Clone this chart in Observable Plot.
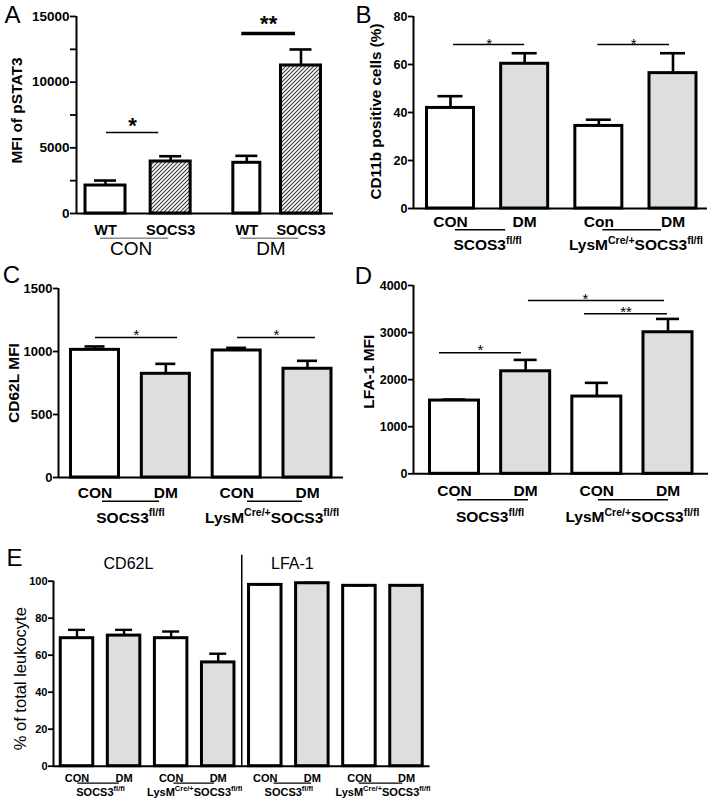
<!DOCTYPE html>
<html>
<head>
<meta charset="utf-8">
<script src="https://cdn.jsdelivr.net/npm/d3@7"></script>
<script src="https://cdn.jsdelivr.net/npm/@observablehq/plot@0.6"></script>
<style>
  body { margin: 0; background: #fff; }
  #fig { position: relative; width: 709px; height: 805px; overflow: hidden; background: #fff; }
  #fig svg [aria-label^="y-axis"] line, #fig svg [aria-label^="y-axis"] path { stroke-width: 1.8px; }
</style>
</head>
<body>
<div id="fig"></div>
<script>
// ---------------- DATA ----------------
// Panel A
const aTicks = ["WT", "SOCS3", "WT", "SOCS3"];
const aConditions = ["CON", "CON", "DM", "DM"];
const aMeans = [2130, 3960, 3860, 11270];
const aErrors = [380, 400, 530, 1220];
const aYTicks = [0, 5000, 10000, 15000];
const aYMinorTicks = [2500, 7500, 12500];
const aGroups = [{a: 0, b: 1, label: "CON"}, {a: 2, b: 3, label: "DM"}];
const aSig = [{a: 0, b: 1, y: 6170, label: "*"}, {a: 2, b: 3, y: 13700, label: "**"}];
const aYLabel = "MFI of pSTAT3";

// Panel B
const bTicks = ["CON", "DM", "Con", "DM"];
const bMeans = [41.9, 60.3, 34.4, 56.4];
const bErrors = [4.9, 4.4, 2.6, 8.3];
const bYTicks = [0, 20, 40, 60, 80];
const bGroups = [{a: 0, b: 1, label: "SCOS3^{fl/fl}"}, {a: 2, b: 3, label: "LysM^{Cre/+}SOCS3^{fl/fl}"}];
const bSig = [{a: 0, b: 1, y: 68.3, label: "*"}, {a: 2, b: 3, y: 68.3, label: "*"}];
const bYLabel = "CD11b positive cells (%)";

// Panel C
const cTicks = ["CON", "DM", "CON", "DM"];
const cMeans = [1013, 823, 1008, 863];
const cErrors = [27, 79, 21, 63];
const cYTicks = [0, 500, 1000, 1500];
const cGroups = [{a: 0, b: 1, label: "SOCS3^{fl/fl}"}, {a: 2, b: 3, label: "LysM^{Cre/+}SOCS3^{fl/fl}"}];
const cSig = [{a: 0, b: 1, y: 1111, label: "*"}, {a: 2, b: 3, y: 1111, label: "*"}];
const cYLabel = "CD62L MFI";

// Panel D
const dTicks = ["CON", "DM", "CON", "DM"];
const dMeans = [1556, 2178, 1641, 3007];
const dErrors = [21, 242, 291, 283];
const dYTicks = [0, 1000, 2000, 3000, 4000];
const dGroups = [{a: 0, b: 1, label: "SOCS3^{fl/fl}"}, {a: 2, b: 3, label: "LysM^{Cre/+}SOCS3^{fl/fl}"}];
const dSig = [{a: 0, b: 1, y: 2570, label: "*"}, {a: 1, b: 3, y: 3680, label: "*"}, {a: 2, b: 3, y: 3400, label: "**"}];
const dYLabel = "LFA-1 MFI";

// Panel E
const eMarkers = ["CD62L", "LFA-1"];
const eTicks = ["CON", "DM", "CON", "DM", "CON", "DM", "CON", "DM"];
const eMeans = [69.2, 70.6, 69.2, 56.1, 98.0, 98.9, 97.5, 97.5];
const eErrors = [4.5, 3.1, 3.6, 4.7, 0.3, 0.2, 0.3, 0.3];
const eYTicks = [0, 20, 40, 60, 80, 100];
const eGroups = [
  {a: 0, b: 1, label: "SOCS3^{fl/fl}"}, {a: 2, b: 3, label: "LysM^{Cre/+}SOCS3^{fl/fl}"},
  {a: 4, b: 5, label: "SOCS3^{fl/fl}"}, {a: 6, b: 7, label: "LysM^{Cre/+}SOCS3^{fl/fl}"}
];
const eYLabel = "% of total leukocyte";

// ---------------- STYLE / LAYOUT ----------------
const FONT = '"Liberation Sans", Arial, Helvetica, sans-serif';
const GRAY = "#dedede";
const fig = document.getElementById("fig");

function applySup(svg) {
  svg.querySelectorAll("text").forEach(t => {
    const s = t.textContent;
    if (!s.includes("^{")) return;
    while (t.firstChild) t.removeChild(t.firstChild);
    const re = /\^\{([^}]*)\}/g;
    let last = 0, m, raised = false;
    const add = (str, sup) => {
      const ts = document.createElementNS("http://www.w3.org/2000/svg", "tspan");
      ts.textContent = str;
      if (sup) { ts.setAttribute("font-size", "68%"); ts.setAttribute("dy", "-0.62em"); }
      else if (raised) { ts.setAttribute("dy", "0.42em"); }
      t.appendChild(ts);
      raised = sup;
    };
    while ((m = re.exec(s))) {
      if (m.index > last) add(s.slice(last, m.index), false);
      add(m[1], true);
      last = re.lastIndex;
    }
    if (last < s.length) add(s.slice(last), false);
  });
}

function buildPanel(L, D) {
  const n = D.cats.length;
  const bw = L.bw;
  const step = (L.cN - L.c0) / (n - 1);
  const r0 = L.c0 - bw / 2, r1 = L.cN + bw / 2;
  const pi = 1 - bw / step;
  const center = i => L.c0 + i * step;
  const bandStart = i => center(i) - bw / 2;
  const bandEnd = i => center(i) + bw / 2;
  const shift = i => (L.shift ? L.shift[i] : 0);
  const wid = i => (L.widths ? L.widths[i] : bw);
  const rows = D.cats.map((cat, i) => ({i, cat, tick: D.ticks[i], mean: D.means[i], err: D.errors[i], fill: D.fills[i]}));
  const marks = [];
  rows.forEach(r => {
    const w = wid(r.i), s = shift(r.i), pad = (bw - w) / 2;
    marks.push(Plot.barY([r], {x: "cat", y: "mean", fill: r.fill, stroke: "black", strokeWidth: L.barStroke,
      insetLeft: pad + s, insetRight: pad - s}));
  });
  rows.forEach(r => {
    const s = shift(r.i), capPad = (bw - L.cap) / 2;
    marks.push(Plot.ruleX([r], {x: "cat", y1: "mean", y2: d => d.mean + d.err, strokeWidth: L.errStroke, dx: s}));
    marks.push(Plot.tickY([r], {x: "cat", y: d => d.mean + d.err, strokeWidth: L.errStroke,
      insetLeft: capPad + s, insetRight: capPad - s}));
  });
  // axes lines
  marks.push(Plot.ruleY([0], {strokeWidth: 2}));
  marks.push(Plot.ruleX([D.cats[0]], {x: d => d, dx: L.mL - (r0 + bw / 2), strokeWidth: 2}));
  // x tick labels
  rows.forEach(r => {
    marks.push(Plot.text([r], {x: "cat", text: "tick", frameAnchor: "bottom", lineAnchor: "middle", textAnchor: "middle",
      dy: L.xDy, dx: shift(r.i), fontSize: L.xFs, fontWeight: "bold"}));
  });
  // group underlines + labels
  D.groups.forEach((g, k) => {
    const [inL, inR] = L.ul[k];
    marks.push(Plot.ruleY([g], {x1: () => D.cats[g.a], x2: () => D.cats[g.b], y: () => 0, dy: L.ulDy,
      insetLeft: inL, insetRight: inR, stroke: L.ulColor, strokeWidth: L.ulWidth}));
    const cmid = (center(g.a) + shift(g.a) + center(g.b) + shift(g.b)) / 2;
    marks.push(Plot.text([g], {x: () => D.cats[g.a], text: "label", frameAnchor: "bottom", lineAnchor: "middle", textAnchor: "middle",
      dx: cmid - center(g.a) + (L.groupDx ? L.groupDx[k] : 0), dy: L.groupDy, fontSize: L.groupFs, fontWeight: L.groupWeight}));
  });
  // significance
  (D.sig || []).forEach((s, k) => {
    const [inL, inR] = L.sigIn[k];
    const sw = Array.isArray(L.sigWidth) ? L.sigWidth[k] : L.sigWidth;
    marks.push(Plot.ruleY([s], {x1: () => D.cats[s.a], x2: () => D.cats[s.b], y: "y",
      insetLeft: inL, insetRight: inR, strokeWidth: sw}));
    const mid = ((bandStart(s.a) + inL) + (bandEnd(s.b) - inR)) / 2;
    marks.push(Plot.text([s], {x: () => D.cats[s.a], y: "y", text: "label", lineAnchor: "middle", textAnchor: "middle",
      dx: mid - center(s.a) + (L.starShift ? L.starShift[k] : 0), dy: L.sigDy[k], fontSize: L.sigFs, fontWeight: L.sigWeight}));
  });
  // y label
  marks.push(Plot.text([D.yLabel], {text: d => d, frameAnchor: "left", rotate: -90, textAnchor: "middle", lineAnchor: "middle",
    dx: L.ylDx, dy: L.ylDy, fontSize: L.ylFs, fontWeight: L.ylWeight}));
  // panel letter
  marks.push(Plot.text([D.letter], {text: d => d, frameAnchor: "top-left", textAnchor: "middle", lineAnchor: "middle",
    dx: L.letterDx, dy: L.letterDy, fontSize: 24, fontWeight: "normal"}));
  if (L.extra) marks.push(...L.extra({center, step, bw, cats: D.cats}));

  const major = new Set(D.yTicks);
  const allTicks = D.yTicks.concat(D.yMinor || []);
  const svg = Plot.plot({
    width: L.width, height: L.height,
    marginLeft: L.mL, marginRight: L.mR, marginTop: L.mT, marginBottom: L.mB,
    x: {type: "band", domain: D.cats, range: [r0, r1], paddingInner: pi, paddingOuter: 0, align: 0.5, round: false, axis: null},
    y: {domain: D.yDomain, ticks: allTicks, tickFormat: d => major.has(d) ? String(d) : "", tickSize: L.tickSize, tickPadding: 1, label: null},
    style: {fontFamily: FONT, fontSize: L.yTickFs + "px", fontWeight: "bold", color: "black", background: "transparent", overflow: "visible"},
    marks
  });
  svg.style.position = "absolute";
  svg.style.left = L.left + "px";
  svg.style.top = L.top + "px";
  svg.style.maxWidth = "none";
  if (L.defs) L.defs(svg);
  fig.appendChild(svg);
  applySup(svg);
  return svg;
}

// ----- Panel A -----
buildPanel({
  left: 0, top: 0, width: 350, height: 270, mL: 76, mR: 17, mT: 16, mB: 57,
  c0: 105, cN: 300.5, bw: 40, shift: [0, 0, 11, 0], widths: [40, 40, 27, 40],
  barStroke: 3, errStroke: 2.6, cap: 22, yTickFs: 13.5, tickSize: 6,
  xFs: 14.5, xDy: 17, ulDy: 24.7, ul: [[15, 22], [25, 22]], ulColor: "#8a8a8a", ulWidth: 1.5,
  groupDy: 35, groupFs: 19, groupWeight: "normal", groupDx: [-7, -3],
  sigIn: [[21, 32], [26, 25.5]], sigWidth: [1.6, 3.6], sigFs: 22, sigWeight: "bold", sigDy: [-6.5, -9.5],
  ylFs: 15.5, ylWeight: "bold", ylDx: -59, ylDy: -4.5, letterDx: -64, letterDy: -1.5,
  defs: svg => {
    const defs = d3.select(svg).insert("defs", ":first-child");
    const p = defs.append("pattern").attr("id", "hatchA").attr("patternUnits", "userSpaceOnUse").attr("width", 4).attr("height", 4);
    p.append("rect").attr("width", 4).attr("height", 4).attr("fill", "white");
    p.append("path").attr("d", "M-1,1 l2,-2 M0,4 l4,-4 M3,5 l2,-2").attr("stroke", "#3a3a3a").attr("stroke-width", 1.1);
  }
}, {
  cats: aTicks.map((t, i) => `${t}|${aConditions[i]}`), ticks: aTicks, means: aMeans, errors: aErrors,
  fills: aTicks.map(t => t === "SOCS3" ? "url(#hatchA)" : "white"),
  yDomain: [0, 15000], yTicks: aYTicks, yMinor: aYMinorTicks, groups: aGroups, sig: aSig, yLabel: aYLabel, letter: "A"
});

// ----- Panel B -----
buildPanel({
  left: 350, top: 0, width: 359, height: 270, mL: 63, mR: 2, mT: 16, mB: 62,
  c0: 100, cN: 322.5, bw: 47,
  barStroke: 3, errStroke: 2.6, cap: 25, yTickFs: 12.5, tickSize: 5,
  xFs: 15.5, xDy: 14, ulDy: 21.3, ul: [[28.5, 42.5], [27.5, 35]], ulColor: "black", ulWidth: 1.5,
  groupDy: 37, groupFs: 15.5, groupWeight: "bold",
  sigIn: [[26.5, 23.5], [22.5, 27]], sigWidth: 1.5, sigFs: 15, sigWeight: "normal", sigDy: [0, 0],
  ylFs: 15.3, ylWeight: "bold", ylDx: -37.3, ylDy: -1, letterDx: -50, letterDy: -1
}, {
  cats: bTicks.map((t, i) => `${t}|${i}`), ticks: bTicks, means: bMeans, errors: bErrors,
  fills: bTicks.map(t => t === "DM" ? GRAY : "white"),
  yDomain: [0, 80], yTicks: bYTicks, groups: bGroups, sig: bSig, yLabel: bYLabel, letter: "B"
});

// ----- Panel C -----
buildPanel({
  left: 0, top: 260, width: 350, height: 280, mL: 58, mR: 7, mT: 28, mB: 63,
  c0: 94.5, cN: 307, bw: 48,
  barStroke: 3, errStroke: 2.6, cap: 20, yTickFs: 13, tickSize: 5,
  xFs: 15.5, xDy: 15.3, ulDy: 23.7, ul: [[31.5, 30.3], [34.8, 29]], ulColor: "black", ulWidth: 1.5,
  groupDy: 40.3, groupFs: 15.5, groupWeight: "bold",
  sigIn: [[24.5, 12.3], [24.8, 16]], sigWidth: 1.5, sigFs: 15, sigWeight: "normal", sigDy: [-2, -2],
  ylFs: 15.5, ylWeight: "bold", ylDx: -44, ylDy: 0, letterDx: -47, letterDy: -13
}, {
  cats: cTicks.map((t, i) => `${t}|${i}`), ticks: cTicks, means: cMeans, errors: cErrors,
  fills: cTicks.map(t => t === "DM" ? GRAY : "white"),
  yDomain: [0, 1500], yTicks: cYTicks, groups: cGroups, sig: cSig, yLabel: cYLabel, letter: "C"
});

// ----- Panel D -----
buildPanel({
  left: 350, top: 260, width: 359, height: 280, mL: 63, mR: 1, mT: 25, mB: 66.7,
  c0: 104, cN: 317.5, bw: 49,
  barStroke: 3, errStroke: 2.6, cap: 23, yTickFs: 12.5, tickSize: 5,
  xFs: 15.5, xDy: 17.4, ulDy: 26, ul: [[27.5, 21.7], [26.2, 24]], ulColor: "black", ulWidth: 1.5,
  groupDy: 43.4, groupFs: 15.5, groupWeight: "bold",
  sigIn: [[9.5, 28.7], [27.3, 28], [12.2, 25]], starShift: [0, -11, 0], sigWidth: 1.5, sigFs: 15, sigWeight: "normal", sigDy: [-3, -1.5, -2],
  ylFs: 15.5, ylWeight: "bold", ylDx: -44.7, ylDy: -8, letterDx: -50, letterDy: -9
}, {
  cats: dTicks.map((t, i) => `${t}|${i}`), ticks: dTicks, means: dMeans, errors: dErrors,
  fills: dTicks.map(t => t === "DM" ? GRAY : "white"),
  yDomain: [0, 4000], yTicks: dYTicks, groups: dGroups, sig: dSig, yLabel: dYLabel, letter: "D"
});

// ----- Panel E -----
const eCats = eTicks.map((t, i) => `${eMarkers[Math.floor(i / 4)]}|${t}|${i}`);
buildPanel({
  left: 0, top: 540, width: 440, height: 265, mL: 53, mR: 10.5, mT: 40.7, mB: 39.3,
  c0: 76.5, cN: 406, bw: 32.5,
  barStroke: 3, errStroke: 2.4, cap: 17, yTickFs: 11, tickSize: 5,
  xFs: 11, xDy: 12.3, ulDy: 17, ul: [[17, 21], [19, 20], [25, 17], [16, 20]], ulColor: "black", ulWidth: 1.3,
  groupDy: 26, groupFs: 11, groupWeight: "bold",
  sigIn: [], sigDy: [],
  ylFs: 16.5, ylWeight: "normal", ylDx: -33, ylDy: 5, letterDx: -39, letterDy: -23,
  extra: ({center, step, cats}) => [
    Plot.ruleX([cats[3]], {x: d => d, dx: step / 2, insetTop: -26, strokeWidth: 1.5}),
    Plot.text([{cat: cats[1], label: eMarkers[0]}], {x: "cat", text: "label", frameAnchor: "top", lineAnchor: "middle", textAnchor: "middle",
      dx: 4.4, dy: -17.7, fontSize: 16, fontWeight: "normal"}),
    Plot.text([{cat: cats[5], label: eMarkers[1]}], {x: "cat", text: "label", frameAnchor: "top", lineAnchor: "middle", textAnchor: "middle",
      dx: -20, dy: -17.7, fontSize: 16, fontWeight: "normal"})
  ]
}, {
  cats: eCats, ticks: eTicks, means: eMeans, errors: eErrors,
  fills: eTicks.map(t => t === "DM" ? GRAY : "white"),
  yDomain: [0, 100], yTicks: eYTicks, groups: eGroups, sig: [], yLabel: eYLabel, letter: "E"
});
</script>
</body>
</html>
